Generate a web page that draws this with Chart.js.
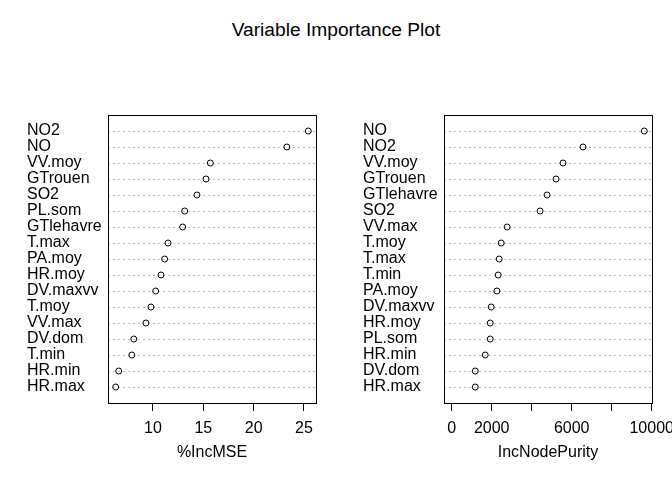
<!DOCTYPE html>
<html>
<head>
<meta charset="utf-8">
<script src="https://cdn.jsdelivr.net/npm/chart.js"></script>
<style>
body { margin: 0; background: #fff; }
#wrap { position: relative; width: 672px; height: 480px; overflow: hidden; }
#title { position: absolute; left: 0; top: 19.7px; width: 672px; text-align: center;
  font: 19.2px/1 "Liberation Sans", Arial, sans-serif; color: #000; }
canvas { position: absolute; top: 0; }
</style>
</head>
<body>
<div id="wrap">
  <div id="title">Variable Importance Plot</div>
  <canvas id="mse" width="336" height="480" style="left:0"></canvas>
  <canvas id="purity" width="336" height="480" style="left:336px"></canvas>
</div>
<script>
// values, top row first
var mseNames = ["NO2", "NO", "VV.moy", "GTrouen", "SO2", "PL.som", "GTlehavre", "T.max", "PA.moy",
  "HR.moy", "DV.maxvv", "T.moy", "VV.max", "DV.dom", "T.min", "HR.min", "HR.max"];
var mseValues = [25.43, 23.3, 15.7, 15.27, 14.37, 13.15, 12.95, 11.5, 11.16,
  10.8, 10.27, 9.8, 9.3, 8.1, 7.9, 6.6, 6.3];
var mseTicks = [10, 15, 20, 25];
var mseTickLabels = ["10", "15", "20", "25"];

var purityNames = ["NO", "NO2", "VV.moy", "GTrouen", "GTlehavre", "SO2", "VV.max", "T.moy", "T.max",
  "T.min", "PA.moy", "DV.maxvv", "HR.moy", "PL.som", "HR.min", "DV.dom", "HR.max"];
var purityValues = [9630, 6564, 5566, 5217, 4768, 4419, 2773, 2474, 2374,
  2324, 2259, 1975, 1925, 1925, 1676, 1177, 1177];
var purityTicks = [0, 2000, 4000, 6000, 8000, 10000];
var purityTickLabels = ["0", "2000", "", "6000", "", "10000"];

var FONT = "'Liberation Sans', Arial, sans-serif";

// black frame around the plot region, like R's box()
var boxPlugin = {
  id: "box",
  afterDraw: function (chart) {
    var a = chart.chartArea, ctx = chart.ctx;
    ctx.save();
    ctx.strokeStyle = "#000";
    ctx.lineWidth = 1;
    ctx.strokeRect(Math.round(a.left) + 0.5, Math.round(a.top) + 0.5,
      Math.round(a.right - a.left), Math.round(a.bottom - a.top));
    ctx.restore();
  }
};

function makePanel(id, names, values, xmin, ticks, tickLabels, title) {
  var lo = xmin === null ? Math.min.apply(null, values) : xmin;
  var hi = Math.max.apply(null, values);
  var pad = (hi - lo) * 0.04;
  var pts = values.map(function (v, i) { return { x: v, y: i + 1 }; });

  return new Chart(document.getElementById(id), {
    type: "scatter",
    data: {
      datasets: [{
        data: pts,
        pointStyle: "circle",
        pointRadius: 3,
        pointBorderWidth: 1,
        pointBorderColor: "#000",
        pointBackgroundColor: "rgba(0,0,0,0)"
      }]
    },
    options: {
      responsive: false,
      animation: false,
      devicePixelRatio: 1,
      events: [],
      layout: { padding: { left: 27, right: 20, top: 115, bottom: 0 } },
      plugins: { legend: { display: false }, tooltip: { enabled: false } },
      scales: {
        x: {
          type: "linear",
          min: lo - pad,
          max: hi + pad,
          afterBuildTicks: function (s) {
            s.ticks = ticks.map(function (v) { return { value: v }; });
          },
          afterFit: function (s) {
            s.height = 77;
            s.paddingLeft = 0;
            s.paddingRight = 0;
          },
          ticks: {
            autoSkip: false,
            maxRotation: 0,
            padding: 8,
            color: "#000",
            font: { family: FONT, size: 16 },
            callback: function (v, i) { return tickLabels[i]; }
          },
          grid: { drawOnChartArea: false, drawTicks: true, tickLength: 8, color: "#000", lineWidth: 1 },
          border: { display: false },
          title: {
            display: true,
            text: title,
            color: "#000",
            font: { family: FONT, size: 16 },
            padding: { top: 0, bottom: 18 }
          }
        },
        y: {
          type: "linear",
          reverse: true,
          min: 0,
          max: 18,
          afterBuildTicks: function (s) {
            s.ticks = names.map(function (n, i) { return { value: i + 1 }; });
          },
          afterFit: function (s) {
            s.width = 81;
            s.paddingTop = 0;
            s.paddingBottom = 0;
          },
          ticks: {
            autoSkip: false,
            crossAlign: "far",
            padding: 0,
            color: "#000",
            font: { family: FONT, size: 16 },
            callback: function (v) { return names[v - 1] || ""; }
          },
          grid: { drawTicks: false, color: "#bebebe", lineWidth: 1 },
          border: { display: false, dash: [2, 3] }
        }
      }
    },
    plugins: [boxPlugin]
  });
}

makePanel("mse", mseNames, mseValues, null, mseTicks, mseTickLabels, "%IncMSE");
makePanel("purity", purityNames, purityValues, 0, purityTicks, purityTickLabels, "IncNodePurity");
</script>
</body>
</html>
